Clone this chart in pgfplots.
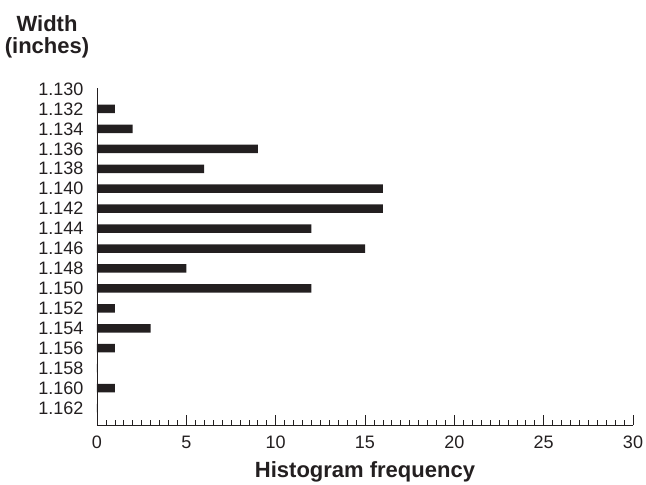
\documentclass[border=0pt]{standalone}
\usepackage{pgfplots}
\pgfplotsset{compat=1.18}
\usepackage{fontspec}
\setmainfont{Liberation Sans}
\definecolor{barc}{HTML}{231F20}
\begin{document}
\begin{tikzpicture}
\path[use as bounding box] (-97pt,-60pt) rectangle (549pt,425pt);
\begin{axis}[
  at={(0,0)}, anchor=south west,
  scale only axis, width=536pt, height=337pt,
  xmin=0, xmax=30, ymin=-0.05, ymax=16.85,
  y dir=reverse,
  axis x line*=bottom, axis y line*=left,
  axis line style={line width=0.8pt, color=barc},
  xtick={0,5,...,30}, minor x tick num=9,
  tick align=inside,
  major tick length=10pt, minor tick length=5pt,
  xtick style={line width=0.7pt, color=barc},
  ytick={0,...,16}, major y tick style={draw=none},
  yticklabels={1.130,1.132,1.134,1.136,1.138,1.140,1.142,1.144,1.146,1.148,1.150,1.152,1.154,1.156,1.158,1.160,1.162},
  ticklabel style={font=\fontsize{18}{19}\selectfont, color=barc},
  /pgf/number format/assume math mode=true,
  yticklabel style={xshift=-10pt},
  xticklabel style={anchor=base, yshift=-23pt},
  xlabel={\bfseries Histogram frequency},
  xlabel style={font=\fontsize{22}{23}\selectfont, color=barc, at={(axis description cs:0.5,0)}, anchor=base, yshift=-52pt},
  clip=false,
]
\addplot[xbar, bar width=8.5pt, fill=barc, draw=none] coordinates {
(1,1) (2,2) (9,3) (6,4) (16,5) (16,6) (12,7) (15,8) (5,9) (12,10) (1,11) (3,12) (1,13) (0,14) (1,15) (0,16)
};
\end{axis}
\node[font=\fontsize{22}{23}\selectfont\bfseries, color=barc, anchor=base] at (-50pt,393pt) {Width};
\node[font=\fontsize{22}{23}\selectfont\bfseries, color=barc, anchor=base] at (-50pt,371pt) {(inches)};
\end{tikzpicture}
\end{document}
